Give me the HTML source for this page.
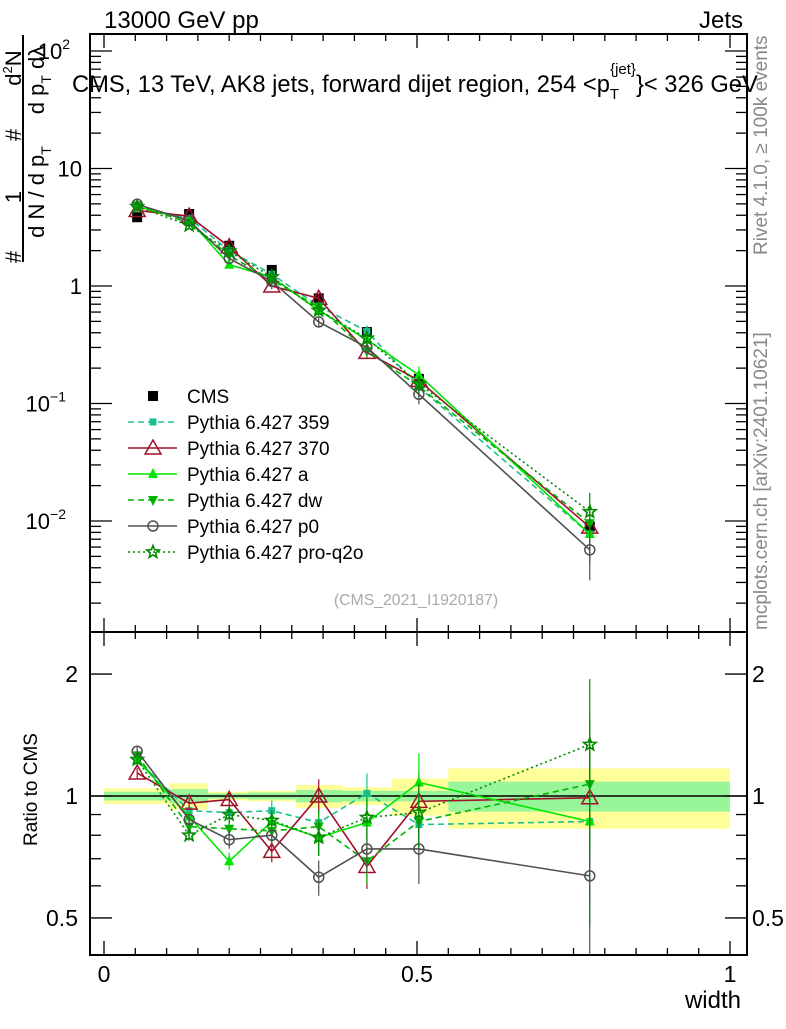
<!DOCTYPE html>
<html><head><meta charset="utf-8"><style>
body{margin:0;background:#fff;width:786px;height:1024px;overflow:hidden}
svg{font-family:"Liberation Sans",sans-serif}
</style></head><body>
<svg id="s" width="786" height="1024" xmlns="http://www.w3.org/2000/svg">
<text x="104" y="28" font-size="24">13000 GeV pp</text>
<text x="743" y="28" font-size="24" text-anchor="end">Jets</text>
<text x="72" y="92" font-size="23.7">CMS, 13 TeV, AK8 jets, forward dijet region, 254 &lt;p<tspan font-size="15" dy="7">T</tspan><tspan font-size="15" dy="-25" dx="-9">{jet}</tspan><tspan dy="18">}&lt; 326 GeV</tspan></text>
<text transform="translate(767,255) rotate(-90)" font-size="19" fill="#888">Rivet 4.1.0, ≥ 100k events</text>
<text transform="translate(767,630) rotate(-90)" font-size="19" fill="#888">mcplots.cern.ch [arXiv:2401.10621]</text>
<text x="416" y="605" font-size="15.8" fill="#aaa" text-anchor="middle">(CMS_2021_I1920187)</text>
<g font-size="22">
<line x1="23" y1="35" x2="23" y2="262" stroke="#000" stroke-width="2"/>
<text transform="translate(21,257) rotate(-90)" text-anchor="middle">#</text>
<text transform="translate(21,197) rotate(-90)" text-anchor="middle">1</text>
<text transform="translate(21,135) rotate(-90)" text-anchor="middle">#</text>
<text transform="translate(21,68) rotate(-90)" text-anchor="middle">d<tspan font-size="13" dy="-9">2</tspan><tspan dy="9">N</tspan></text>
<text transform="translate(44,192) rotate(-90)" text-anchor="middle">d N / d p<tspan font-size="14" dy="7">T</tspan></text>
<text transform="translate(44,80) rotate(-90)" text-anchor="middle">d p<tspan font-size="14" dy="7">T</tspan><tspan dy="-7">  d</tspan>λ</text>
</g>
<text transform="translate(37,846) rotate(-90)" font-size="19">Ratio to CMS</text>
<text x="741" y="1008" font-size="24" text-anchor="end">width</text>
<g id="g"></g>
</svg>
<script>
const categories=[0.053,0.136,0.2,0.268,0.343,0.42,0.503,0.776];
const binEdges=[0,0.105,0.166,0.23,0.307,0.381,0.46,0.55,1.0];
const cmsValues=[3.85,4.1,2.2,1.37,0.785,0.406,0.162,0.00895];
const statBand=[0.025,0.04,0.015,0.02,0.035,0.03,0.03,0.085];
const totBand=[0.045,0.075,0.025,0.03,0.065,0.05,0.105,0.17];
const ratio359=[1.23,0.92,0.91,0.92,0.86,1.015,0.85,0.865];
const ratio370=[1.14,0.96,0.98,0.73,1.0,0.67,0.97,0.99];
const ratioA=[1.23,0.89,0.69,0.865,0.79,0.86,1.08,0.865];
const ratioDw=[1.26,0.84,0.83,0.82,0.84,0.69,0.865,1.07];
const ratioP0=[1.29,0.875,0.78,0.80,0.63,0.74,0.74,0.635];
const ratioQ2o=[1.23,0.80,0.90,0.87,0.79,0.885,0.91,1.34];
const relErr=[0.03,0.03,0.05,0.06,0.1,0.12,0.18,0.45];
const xTicks=[0,0.5,1];
const ratioTicks=[0.5,1,2];

const NS='http://www.w3.org/2000/svg';
const G=document.getElementById('g');
function el(t,a,p){const e=document.createElementNS(NS,t);for(const k in a)e.setAttribute(k,a[k]);(p||G).appendChild(e);return e;}
const L=90,R=747,T=34,B=632,RT=632,RB=955;
const X=v=>104+626*v;
const Y=v=>286-117.5*Math.log10(v);
const RY=v=>796-405*Math.log10(v);

binEdges.slice(0,-1).forEach((e,i)=>{
 const x0=X(e),x1=X(binEdges[i+1]);
 const b=el('rect',{x:x0,y:RY(1+totBand[i]),width:x1-x0,height:RY(1-totBand[i])-RY(1+totBand[i]),fill:'#ffff99'});
 
 
 const s=el('rect',{x:x0,y:RY(1+statBand[i]),width:x1-x0,height:RY(1-statBand[i])-RY(1+statBand[i]),fill:'#99f599'});
 
 
});
el('line',{x1:L,x2:R,y1:RY(1),y2:RY(1),stroke:'#000','stroke-width':1.5});

[[T,B],[RT,RB]].forEach(([a,b])=>{const f=el('rect',{x:L,y:a,width:R-L,height:b-a,fill:'none',stroke:'#000','stroke-width':2});

});

for(let v=0;v<=1.0001;v+=0.05){const maj=Math.abs(v*2-Math.round(v*2))<1e-6;const len=maj?14:7;
 [T,RT].forEach(y=>el('line',{x1:X(v),x2:X(v),y1:y,y2:y+len,stroke:'#000','stroke-width':1.3}));
 [B,RB].forEach(y=>el('line',{x1:X(v),x2:X(v),y1:y,y2:y-len,stroke:'#000','stroke-width':1.3}));}
xTicks.forEach(v=>{const t=el('text',{x:X(v),y:982,'font-size':23,'text-anchor':'middle'});t.textContent=String(v);

});

for(let d=-3;d<=2;d++)for(let m=1;m<10;m++){const v=m*Math.pow(10,d);const y=Y(v);if(y<T||y>B)continue;const len=m==1?22:11;
 el('line',{x1:L,x2:L+len,y1:y,y2:y,stroke:'#000','stroke-width':1.3});el('line',{x1:R,x2:R-len,y1:y,y2:y,stroke:'#000','stroke-width':1.3});}
[[2,'10','2'],[1,'10',''],[0,'1',''],[-1,'10','−1'],[-2,'10','−2']].forEach(([d,b,e])=>{
 const t=el('text',{x:e?(e=='2'?70:66):82,y:Y(Math.pow(10,d))+8,'font-size':22,'text-anchor':'end'});t.textContent=b;
 
 
 if(e){const s=el('tspan',{'font-size':14,dy:-10});s.textContent=e;t.appendChild(s);}});

[0.5,0.6,0.7,0.8,0.9,1,2].forEach(v=>{const len=(v==1||v==2||v==0.5)?22:11;const y=RY(v);
 el('line',{x1:L,x2:L+len,y1:y,y2:y,stroke:'#000','stroke-width':1.3});el('line',{x1:R,x2:R-len,y1:y,y2:y,stroke:'#000','stroke-width':1.3});});
ratioTicks.forEach(v=>{const a=el('text',{x:78,y:RY(v)+8,'font-size':23,'text-anchor':'end'});a.textContent=String(v);


const b=el('text',{x:752,y:RY(v)+8,'font-size':23});b.textContent=String(v);

});

function marker(type,x,y,c,p){
 if(type=='sq')return el('rect',{x:x-5,y:y-5,width:10,height:10,fill:c},p);
 if(type=='ssq')return el('rect',{x:x-3.5,y:y-3.5,width:7,height:7,fill:c},p);
 if(type=='otri')return el('polygon',{points:`${x},${y-8} ${x-8},${y+6} ${x+8},${y+6}`,fill:'none',stroke:c,'stroke-width':1.5},p);
 if(type=='tri')return el('polygon',{points:`${x},${y-6} ${x-5},${y+4} ${x+5},${y+4}`,fill:c},p);
 if(type=='dtri')return el('polygon',{points:`${x},${y+6} ${x-5},${y-4} ${x+5},${y-4}`,fill:c},p);
 if(type=='circ')return el('circle',{cx:x,cy:y,r:5,fill:'none',stroke:c,'stroke-width':1.5},p);
 if(type=='star'){let pts=[];for(let i=0;i<10;i++){const r=i%2?2.8:6.5,a=-Math.PI/2+i*Math.PI/5;pts.push((x+r*Math.cos(a)).toFixed(1)+','+(y+r*Math.sin(a)).toFixed(1));}
  return el('polygon',{points:pts.join(' '),fill:'none',stroke:c,'stroke-width':1.6},p);}
}
const series=[
 {n:'359',r:ratio359,c:'#1bbf8f',d:'6,4',m:'ssq'},
 {n:'370',r:ratio370,c:'#a0102a',d:'',m:'otri'},
 {n:'a',r:ratioA,c:'#00e600',d:'',m:'tri'},
 {n:'dw',r:ratioDw,c:'#00b400',d:'6,4',m:'dtri'},
 {n:'p0',r:ratioP0,c:'#505050',d:'',m:'circ'},
 {n:'pro-q2o',r:ratioQ2o,c:'#008a00',d:'2,3',m:'star'}];

cmsValues.forEach((v,i)=>{const m=marker('sq',X(categories[i]),Y(v),'#000');
 
 });

series.forEach(s=>{
 const gm=el('g',{});
 
 const vals=s.r.map((r,i)=>r*cmsValues[i]);
 el('polyline',{points:vals.map((v,i)=>X(categories[i])+','+Y(v)).join(' '),fill:'none',stroke:s.c,'stroke-width':1.6,'stroke-dasharray':s.d},gm);
 el('polyline',{points:s.r.map((v,i)=>X(categories[i])+','+RY(v)).join(' '),fill:'none',stroke:s.c,'stroke-width':1.6,'stroke-dasharray':s.d},gm);
 vals.forEach((v,i)=>{const x=X(categories[i]),e=relErr[i];
  el('line',{x1:x,x2:x,y1:Y(v*(1+e)),y2:Y(v*(1-e)),stroke:s.c,'stroke-width':1.2},gm);
  el('line',{x1:x,x2:x,y1:RY(s.r[i]*(1+e)),y2:Math.min(RB,RY(s.r[i]*(1-e))),stroke:s.c,'stroke-width':1.2},gm);
  marker(s.m,x,Y(v),s.c,gm);marker(s.m,x,RY(s.r[i]),s.c,gm);});
});

const lg=el('g',{});

marker('sq',153,396,'#000',lg);
let t=el('text',{x:187,y:403,'font-size':19},lg);t.textContent='CMS';
series.forEach((s,i)=>{const y=422+26*i;
 el('line',{x1:128,x2:177,y1:y,y2:y,stroke:s.c,'stroke-width':1.6,'stroke-dasharray':s.d},lg);
 marker(s.m,153,y,s.c,lg);
 const tt=el('text',{x:187,y:y+7,'font-size':19},lg);tt.textContent='Pythia 6.427 '+s.n;
 
 });
</script>
</body></html>
